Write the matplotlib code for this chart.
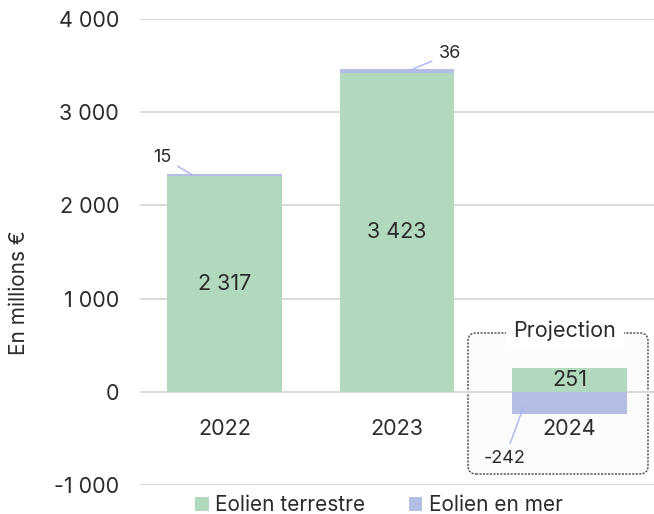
import matplotlib
matplotlib.use("Agg")
import matplotlib.pyplot as plt
from matplotlib.patches import FancyBboxPatch, Patch
from matplotlib.ticker import FuncFormatter

plt.rcParams['font.family'] = ['Inter', 'DejaVu Sans']

years = ["2022", "2023", "2024"]
terrestre = [2317, 3423, 251]
en_mer = [15, 36, -242]
yticks = [-1000, 0, 1000, 2000, 3000, 4000]

green = "#b0d9bd"
blue = "#b4bde3"
txt = "#2b2b2b"
FS = 15.5

fig = plt.figure(figsize=(6.54, 5.14), dpi=100)
W, H = 654, 514
ax = fig.add_axes([140 / W, (514 - 485) / H, (654 - 140) / W, (485 - 19) / H])
ax.patch.set_visible(False)
ax.set_xlim(-0.49, 2.49)
ax.set_ylim(-1000, 4000)

x = list(range(len(years)))
ax.bar(x, terrestre, width=0.665, color=green, zorder=2)
bottoms = [t if m >= 0 else 0 for t, m in zip(terrestre, en_mer)]
ax.bar(x, en_mer, width=0.665, bottom=bottoms, color=blue, zorder=2)

ax.set_yticks(yticks)
ax.yaxis.set_major_formatter(FuncFormatter(lambda v, p: f"{int(v):,}".replace(",", " ")))
ax.tick_params(axis='y', length=0, pad=15, labelsize=FS, labelcolor=txt)
ax.tick_params(axis='x', length=0, labelbottom=False)
ax.grid(axis='y', color="#d9d9d9", linewidth=1.4, zorder=0)
for s in ax.spines.values():
    s.set_visible(False)

# category labels under zero line
for xi, yr in zip(x, years):
    ax.annotate(yr, (xi, 0), xytext=(0, -27), textcoords='offset points',
                ha='center', va='center', fontsize=FS, color=txt, zorder=5)

# values inside terrestre bars
for xi, v in zip(x, terrestre):
    ax.text(xi, v / 2, f"{v:,}".replace(",", " "), ha='center', va='center',
            fontsize=FS, color=txt, zorder=5)

# small en mer labels with leader lines
offsets = [(-22, 13), (30, 12.5), (-13.7, -37.4)]
anchors = [(-0.185, 2325), (0.064, 3441), (-0.266, -160)]
for xi, m, off, (dx, ya) in zip(x, en_mer, offsets, anchors):
    ax.annotate(f"{m}", (xi + dx, ya), xytext=off, textcoords='offset points',
                ha='center', va='center', fontsize=13, color=txt, zorder=5,
                arrowprops=dict(arrowstyle='-', color="#a9b3f2", lw=1,
                                shrinkA=3, shrinkB=0))

# projection box
box = FancyBboxPatch((468, 514 - 474), 180, 141, boxstyle="round,pad=0,rounding_size=8",
                     transform=None, facecolor="#fcfcfc", edgecolor="#444444",
                     linewidth=1, linestyle=(0, (1.5, 1)), zorder=-1)
fig.patches.append(box)
fig.text(565 / W, (514 - 331) / H, "Projection", ha='center', va='center',
         fontsize=FS, color=txt, zorder=6,
         bbox=dict(facecolor='white', edgecolor='none', boxstyle='square,pad=0.35'))

fig.text(19 / W, (514 - 293) / H, "En millions €", rotation=90, ha='center',
         va='center', fontsize=15, color=txt)

handles = [Patch(facecolor=green, label="Eolien terrestre"),
           Patch(facecolor=blue, label="Eolien en mer")]
fig.legend(handles=handles, loc='center', bbox_to_anchor=(379 / W, (514 - 505) / H),
           ncol=2, frameon=False, fontsize=15, handlelength=0.65, handleheight=0.65,
           handletextpad=0.3, columnspacing=2.1, labelcolor=txt,
           borderpad=0, borderaxespad=0)

fig.savefig("out.png", dpi=100)
